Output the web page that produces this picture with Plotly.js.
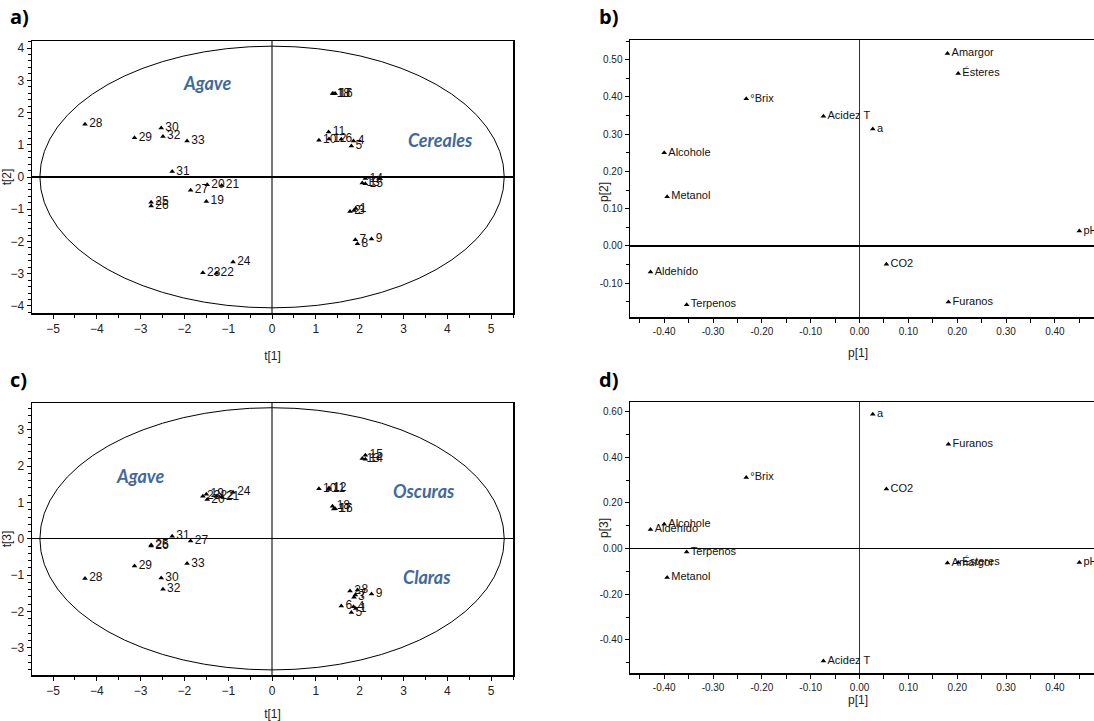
<!DOCTYPE html>
<html>
<head>
<meta charset="utf-8">
<script src="https://cdn.plot.ly/plotly-3.0.1.min.js"></script>
<style>html,body{margin:0;padding:0;background:#fff;}#chart{width:1094px;height:721px;}</style>
</head>
<body>
<div id="chart"></div>
<script>
// ---- Scores (samples) ----
const sampleIds = ['1','2','3','4','5','6','7','8','9','10','11','12','13','14','15','16','17','18',
  '19','20','21','22','23','24','25','26','27','28','29','30','31','32','33'];
const t1 = [1.91, 1.78, 1.87, 1.86, 1.81, 1.58, 1.90, 1.95, 2.27, 1.07, 1.29, 1.30, 2.06, 2.13, 2.13, 1.44, 1.41, 1.38,
  -1.50, -1.48, -1.15, -1.27, -1.58, -0.89, -2.76, -2.76, -1.86, -4.27, -3.14, -2.53, -2.28, -2.49, -1.94];
const t2 = [-0.98, -1.07, -1.04, 1.12, 0.96, 1.17, -1.95, -2.07, -1.92, 1.14, 1.40, 1.18, -0.19, -0.05, -0.21, 2.59, 2.58, 2.59,
  -0.76, -0.24, -0.26, -2.99, -2.97, -2.64, -0.78, -0.90, -0.41, 1.64, 1.22, 1.52, 0.17, 1.26, 1.12];
const t3 = [-1.92, -1.44, -1.61, -1.87, -2.03, -1.85, -1.55, -1.41, -1.52, 1.38, 1.36, 1.40, 2.21, 2.19, 2.30, 0.83, 0.82, 0.90,
  1.23, 1.08, 1.15, 1.17, 1.17, 1.28, -0.17, -0.20, -0.06, -1.09, -0.75, -1.08, 0.07, -1.39, -0.68];

// ---- Loadings (variables) ----
const variables = ['Amargor','Ésteres','°Brix','Acidez T','a','Alcohole','Metanol','pH','CO2','Aldehído','Terpenos','Furanos'];
const p1 = [0.180, 0.202, -0.232, -0.074, 0.027, -0.400, -0.394, 0.450, 0.055, -0.428, -0.354, 0.182];
const p2 = [0.517, 0.463, 0.395, 0.348, 0.314, 0.250, 0.132, 0.040, -0.049, -0.070, -0.158, -0.151];
const p3 = [-0.063, -0.061, 0.311, -0.492, 0.588, 0.107, -0.127, -0.061, 0.261, 0.083, -0.015, 0.457];

// ---- Hotelling ellipse semi-axes ----
const ellipseAB = {a: 5.30, b: 4.06};
const ellipseAC = {a: 5.30, b: 3.61};

// ---- Tick labels ----
const tTicks = [-5,-4,-3,-2,-1,0,1,2,3,4,5];
const pTicks = [-0.40,-0.30,-0.20,-0.10,0.00,0.10,0.20,0.30,0.40];
const pTickText = ['-0.40','-0.30','-0.20','-0.10','0.00','0.10','0.20','0.30','0.40'];
const p2Ticks = [-0.10,0.00,0.10,0.20,0.30,0.40,0.50];
const p2TickText = ['-0.10','0.00','0.10','0.20','0.30','0.40','0.50'];
const p3Ticks = [-0.40,-0.20,0.00,0.20,0.40,0.60];
const p3TickText = ['-0.40','-0.20','0.00','0.20','0.40','0.60'];

const W = 1094, H = 721;
const px = v => v / W;
const py = v => 1 - v / H;

const markerStyle = {symbol:'triangle-up', size:5, color:'#000'};
const scoreFont = {family:'Liberation Sans, Arial, sans-serif', size:12, color:'#111'};
const loadFont = {family:'Liberation Sans, Arial, sans-serif', size:11, color:'#111'};

const traces = [
  {x:t1, y:t2, text:sampleIds, mode:'markers+text', textposition:'middle right', marker:markerStyle,
   textfont:scoreFont, xaxis:'x', yaxis:'y', cliponaxis:false, hoverinfo:'text'},
  {x:p1, y:p2, text:variables, mode:'markers+text', textposition:'middle right', marker:markerStyle,
   textfont:loadFont, xaxis:'x2', yaxis:'y2', cliponaxis:false, hoverinfo:'text'},
  {x:t1, y:t3, text:sampleIds, mode:'markers+text', textposition:'middle right', marker:markerStyle,
   textfont:scoreFont, xaxis:'x3', yaxis:'y3', cliponaxis:false, hoverinfo:'text'},
  {x:p1, y:p3, text:variables, mode:'markers+text', textposition:'middle right', marker:markerStyle,
   textfont:loadFont, xaxis:'x4', yaxis:'y4', cliponaxis:false, hoverinfo:'text'}
];

const tickFontT = {family:'Liberation Sans, Arial, sans-serif', size:12, color:'#222'};
const tickFontP = {family:'Liberation Sans, Arial, sans-serif', size:10, color:'#222'};
const titleFontP = {family:'Liberation Sans, Arial, sans-serif', size:12, color:'#222'};

function tAxisX(domain, anchor){
  return {domain, anchor, range:[-5.48,5.50], tickvals:tTicks, ticks:'outside', ticklen:4, tickcolor:'#000',
    minor:{dtick:0.5, tick0:0, ticks:'outside', ticklen:3, tickcolor:'#000'},
    showline:true, mirror:true, linecolor:'#000', linewidth:1.5, showgrid:false,
    zeroline:true, zerolinecolor:'#777', zerolinewidth:2, tickfont:tickFontT,
    title:{text:'t[1]', font:{family:'Liberation Sans, Arial, sans-serif', size:12, color:'#222'}}};
}
function tAxisY(domain, anchor, range, title){
  return {domain, anchor, range, tickvals:[-4,-3,-2,-1,0,1,2,3,4], ticks:'outside', ticklen:4, tickcolor:'#000',
    minor:{dtick:0.2, tick0:0, ticks:'outside', ticklen:3, tickcolor:'#000'},
    showline:true, mirror:true, linecolor:'#000', linewidth:1.5, showgrid:false,
    zeroline:true, zerolinecolor:'#000', zerolinewidth:1.3, tickfont:tickFontT,
    title:{text:title, font:{family:'Liberation Sans, Arial, sans-serif', size:12, color:'#222'}}};
}
function pAxisX(domain, anchor){
  return {domain, anchor, range:[-0.47,0.48], tickvals:pTicks, ticktext:pTickText, ticks:'outside', ticklen:4, tickcolor:'#000',
    minor:{dtick:0.05, tick0:0, ticks:'outside', ticklen:4, tickcolor:'#000'},
    showline:true, mirror:true, linecolor:'#000', linewidth:1.5, showgrid:false,
    zeroline:true, zerolinecolor:'#333', zerolinewidth:1.3, tickfont:tickFontP};
}
function pAxisY(domain, anchor, range, tv, tt, minorD){
  return {domain, anchor, range, tickvals:tv, ticktext:tt, ticks:'outside', ticklen:4, tickcolor:'#000',
    minor:{dtick:minorD, tick0:0, ticks:'outside', ticklen:3, tickcolor:'#000'},
    showline:true, mirror:false, linecolor:'#000', linewidth:1.5, showgrid:false,
    zeroline:true, zerolinecolor:'#000', zerolinewidth:1.3, tickfont:tickFontP};
}

const leftDom = [px(32), px(513)];
const rightDom = [px(630), 1];

const groupFont = {family:'Lato, Open Sans, sans-serif', size:18, color:'#40699C', weight:'bold', style:'italic'};
const panelFont = {family:'Open Sans, Lato, sans-serif', size:20, color:'#000', weight:'bold'};

const layout = {
  width:W, height:H, margin:{l:0,r:0,t:0,b:0}, paper_bgcolor:'#fff', plot_bgcolor:'#fff', showlegend:false,
  xaxis: tAxisX(leftDom, 'y'),
  yaxis: tAxisY([py(313), py(41)], 'x', [-4.22,4.22], 't[2]'),
  xaxis2: pAxisX(rightDom, 'y2'),
  yaxis2: pAxisY([py(317), py(40)], 'x2', [-0.191,0.553], p2Ticks, p2TickText, 0.05),
  xaxis3: tAxisX(leftDom, 'y3'),
  yaxis3: tAxisY([py(675), py(403)], 'x3', [-3.75,3.74], 't[3]'),
  xaxis4: pAxisX(rightDom, 'y4'),
  yaxis4: pAxisY([py(673), py(402)], 'x4', [-0.545,0.642], p3Ticks, p3TickText, 0.1),
  shapes: [
    {type:'circle', xref:'x', yref:'y', x0:-ellipseAB.a, x1:ellipseAB.a, y0:-ellipseAB.b, y1:ellipseAB.b,
     line:{color:'#000', width:1}},
    {type:'circle', xref:'x3', yref:'y3', x0:-ellipseAC.a, x1:ellipseAC.a, y0:-ellipseAC.b, y1:ellipseAC.b,
     line:{color:'#000', width:1}}
  ],
  annotations: [
    {text:'Agave', xref:'x', yref:'y', x:-1.49, y:2.92, showarrow:false, font:groupFont},
    {text:'Cereales', xref:'x', yref:'y', x:3.84, y:1.16, showarrow:false, font:groupFont},
    {text:'Agave', xref:'x3', yref:'y3', x:-3.02, y:1.72, showarrow:false, font:groupFont},
    {text:'Oscuras', xref:'x3', yref:'y3', x:3.47, y:1.32, showarrow:false, font:groupFont},
    {text:'Claras', xref:'x3', yref:'y3', x:3.53, y:-1.04, showarrow:false, font:groupFont},
    {text:'p[1]', xref:'paper', yref:'paper', x:px(858), y:py(353), xanchor:'center', showarrow:false, font:titleFontP},
    {text:'p[2]', xref:'paper', yref:'paper', x:px(604), y:py(180), textangle:-90, showarrow:false, font:titleFontP},
    {text:'p[1]', xref:'paper', yref:'paper', x:px(858), y:py(709), xanchor:'center', showarrow:false, font:titleFontP},
    {text:'p[3]', xref:'paper', yref:'paper', x:px(604), y:py(540), textangle:-90, showarrow:false, font:titleFontP},
    {text:'a)', xref:'paper', yref:'paper', x:px(8), y:py(17), xanchor:'left', yanchor:'middle', showarrow:false, font:panelFont},
    {text:'b)', xref:'paper', yref:'paper', x:px(597), y:py(17), xanchor:'left', yanchor:'middle', showarrow:false, font:panelFont},
    {text:'c)', xref:'paper', yref:'paper', x:px(8), y:py(379), xanchor:'left', yanchor:'middle', showarrow:false, font:panelFont},
    {text:'d)', xref:'paper', yref:'paper', x:px(597), y:py(379), xanchor:'left', yanchor:'middle', showarrow:false, font:panelFont}
  ]
};

Plotly.newPlot('chart', traces, layout, {displayModeBar:false, staticPlot:true});
</script>
</body>
</html>
